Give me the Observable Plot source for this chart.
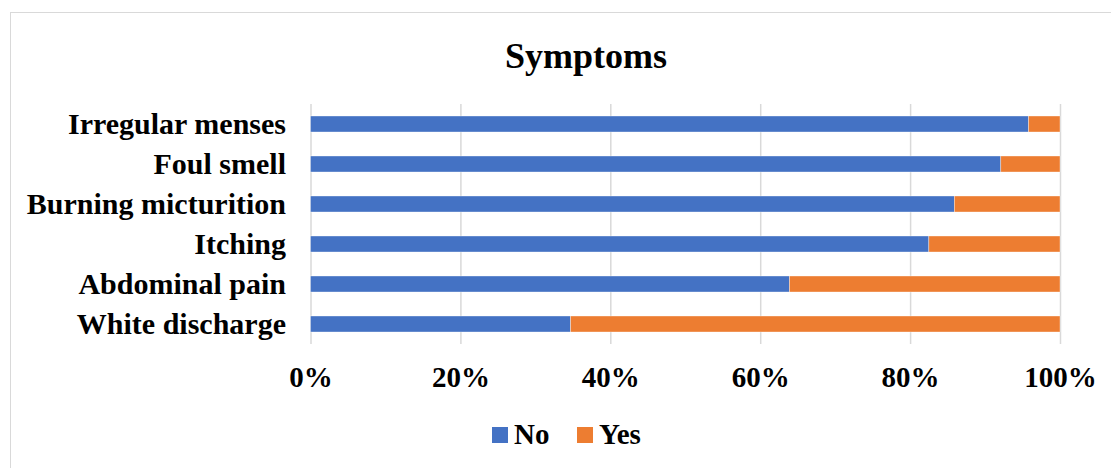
<!DOCTYPE html>
<html>
<head>
<meta charset="utf-8">
<script src="https://cdn.jsdelivr.net/npm/d3@7"></script>
<script src="https://cdn.jsdelivr.net/npm/@observablehq/plot@0.6"></script>
<style>
  body { margin: 0; background: #fff; font-family: "Liberation Serif", "Times New Roman", serif; }
  #wrap { position: relative; width: 1111px; height: 468px; overflow: hidden; }
  #frame { position: absolute; left: 10px; top: 12px; width: 1130px; height: 480px; border: 1.5px solid #d9d9d9; box-sizing: border-box; }
  #title { position: absolute; left: 0; width: 1172px; top: 36px; text-align: center; font-size: 36px; font-weight: bold; line-height: 40px; color: #000; }
  #chart { position: absolute; left: 0; top: 0; }
  .lg-sq { position: absolute; width: 16px; height: 16px; }
  .lg-tx { position: absolute; font-size: 29px; font-weight: bold; line-height: 29px; color: #000; }
</style>
</head>
<body>
<div id="wrap">
  <div id="frame"></div>
  <div id="title">Symptoms</div>
  <div id="chart"></div>
  <div class="lg-sq" style="left:492px;top:427px;background:#4472c4"></div>
  <div class="lg-tx" style="left:514px;top:420px">No</div>
  <div class="lg-sq" style="left:577px;top:427px;background:#ed7d31"></div>
  <div class="lg-tx" style="left:599px;top:420px">Yes</div>
</div>
<script>
const categories = ["Irregular menses", "Foul smell", "Burning micturition", "Itching", "Abdominal pain", "White discharge"];
const noValues  = [95.8, 92.1, 85.9, 82.5, 63.9, 34.7];
const yesValues = [4.2, 7.9, 14.1, 17.5, 36.1, 65.3];
const seriesNames = ["No", "Yes"];
const seriesColors = ["#4472c4", "#ed7d31"];
const xTicks = [0, 20, 40, 60, 80, 100];

const rows = [];
categories.forEach((c, i) => {
  rows.push({category: c, series: "No", value: noValues[i]});
  rows.push({category: c, series: "Yes", value: yesValues[i]});
});

const chart = Plot.plot({
  width: 1111,
  height: 400,
  marginLeft: 310.5,
  marginRight: 51,
  marginTop: 104,
  marginBottom: 56,
  style: { fontFamily: "'Liberation Serif', 'Times New Roman', serif", fontWeight: "bold", color: "#000", background: "transparent", overflow: "visible" },
  x: { domain: [0, 100] },
  y: { domain: categories, paddingInner: 0.6, paddingOuter: 0.3 },
  color: { domain: seriesNames, range: seriesColors },
  marks: [
    Plot.ruleX(xTicks, { stroke: "#d9d9d9", strokeWidth: 1.5 }),
    Plot.barX(rows, Plot.stackX({ y: "category", x: "value", fill: "series", order: seriesNames, stroke: "#ffffff", strokeWidth: 0.6, strokeOpacity: 0.6 })),
    Plot.axisX({ ticks: xTicks, tickFormat: d => d + "%", tickSize: 0, tickPadding: 22, fontSize: 29, label: null }),
    Plot.axisY({ tickSize: 0, tickPadding: 25, fontSize: 30, label: null })
  ]
});
document.getElementById("chart").appendChild(chart);
</script>
</body>
</html>
